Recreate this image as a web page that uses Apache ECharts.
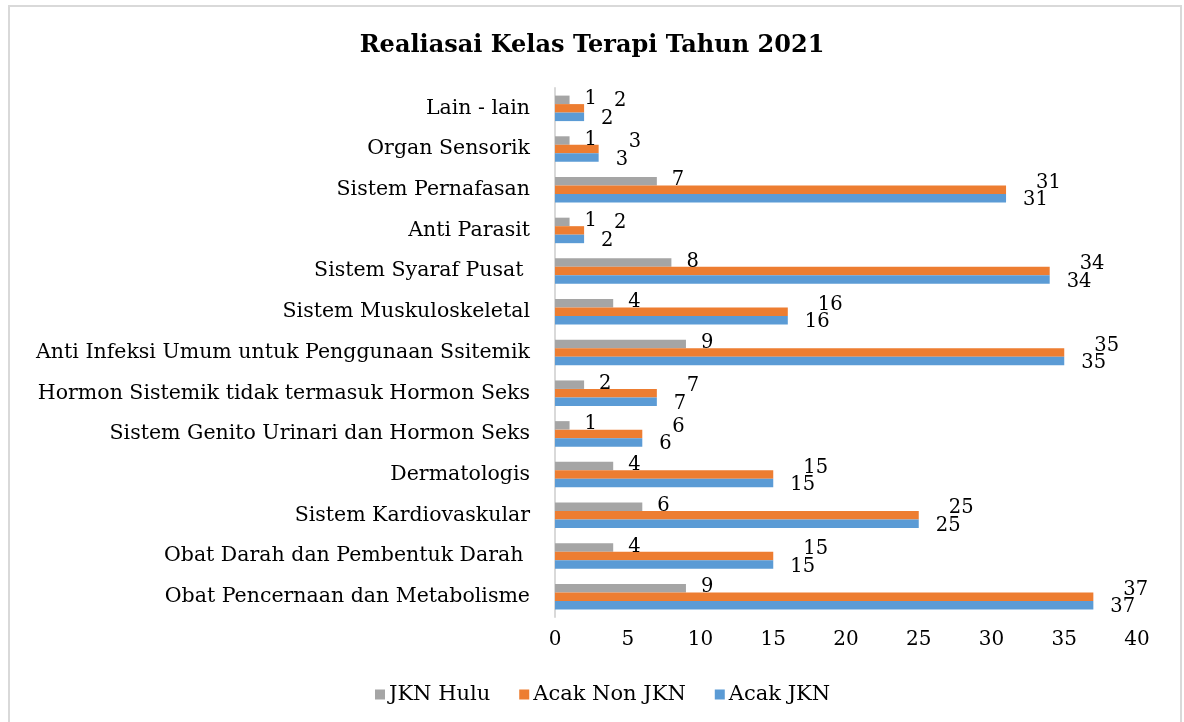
<!DOCTYPE html>
<html>
<head>
<meta charset="utf-8">
<script src="https://cdn.jsdelivr.net/npm/echarts@6/dist/echarts.min.js"></script>
<style>
html,body{margin:0;padding:0;background:#fff;overflow:hidden;}
#frame{position:absolute;left:8px;top:5px;width:1174px;height:740px;border:2px solid #d9d9d9;box-sizing:border-box;}
#chart{position:absolute;left:0;top:0;width:1184px;height:722px;}
</style>
</head>
<body>
<div id="frame"></div>
<div id="chart"></div>
<script>
// categories listed bottom-to-top (ECharts category y-axis runs upward)
const categories = [
  "Obat Pencernaan dan Metabolisme",
  "Obat Darah dan Pembentuk Darah ",
  "Sistem Kardiovaskular",
  "Dermatologis",
  "Sistem Genito Urinari dan Hormon Seks",
  "Hormon Sistemik tidak termasuk Hormon Seks",
  "Anti Infeksi Umum untuk Penggunaan Ssitemik",
  "Sistem Muskuloskeletal",
  "Sistem Syaraf Pusat ",
  "Anti Parasit",
  "Sistem Pernafasan",
  "Organ Sensorik",
  "Lain - lain"
];
const jknHulu    = [9, 4, 6, 4, 1, 2, 9, 4, 8, 1, 7, 1, 1];
const acakNonJkn = [37, 15, 25, 15, 6, 7, 35, 16, 34, 2, 31, 3, 2];
const acakJkn    = [37, 15, 25, 15, 6, 7, 35, 16, 34, 2, 31, 3, 2];
const seriesNames = ["JKN Hulu", "Acak Non JKN", "Acak JKN"];
const xTicks = { min: 0, max: 40, interval: 5 };

const serif = "DejaVu Serif";
const labelBase = { show: true, color: "#000", fontFamily: serif, fontSize: 19.5 };

const chart = echarts.init(document.getElementById('chart'), null, { renderer: 'canvas' });
chart.setOption({
  animation: false,
  backgroundColor: 'transparent',
  title: {
    text: "Realiasai Kelas Terapi Tahun 2021",
    left: 'center', top: 29,
    textStyle: { fontFamily: serif, fontWeight: 'bold', fontSize: 24, color: '#000' }
  },
  legend: {
    top: 679, left: 370,
    itemWidth: 10, itemHeight: 10, itemGap: 29,
    icon: 'rect',
    textStyle: { fontFamily: serif, fontSize: 21, color: '#000', padding: [0, 0, 0, -1] },
    data: seriesNames
  },
  grid: { left: 555, right: 47, top: 88, bottom: 105, containLabel: false },
  xAxis: {
    type: 'value', min: xTicks.min, max: xTicks.max, interval: xTicks.interval,
    axisLine: { show: false }, axisTick: { show: false }, splitLine: { show: false },
    axisLabel: { fontFamily: serif, fontSize: 20, color: '#000', margin: 13 }
  },
  yAxis: {
    type: 'category', data: categories,
    axisLine: { show: true, lineStyle: { color: '#d9d9d9', width: 2 } },
    axisTick: { show: false },
    axisLabel: { fontFamily: serif, fontSize: 20.5, color: '#000', margin: 25 }
  },
  series: [
    { name: seriesNames[0], type: 'bar', data: jknHulu, barWidth: 8.5, barGap: '0%',
      itemStyle: { color: '#a5a5a5' },
      label: Object.assign({}, labelBase, { position: 'right', distance: 15, offset: [0, -1] }) },
    { name: seriesNames[1], type: 'bar', data: acakNonJkn, barWidth: 8.5, barGap: '0%',
      itemStyle: { color: '#ed7d31' },
      label: Object.assign({}, labelBase, { position: 'right', distance: 30, offset: [0, -7] }) },
    { name: seriesNames[2], type: 'bar', data: acakJkn, barWidth: 8.5, barGap: '0%',
      itemStyle: { color: '#5b9bd5' },
      label: Object.assign({}, labelBase, { position: 'right', distance: 17, offset: [0, 2] }) }
  ]
});
</script>
</body>
</html>
